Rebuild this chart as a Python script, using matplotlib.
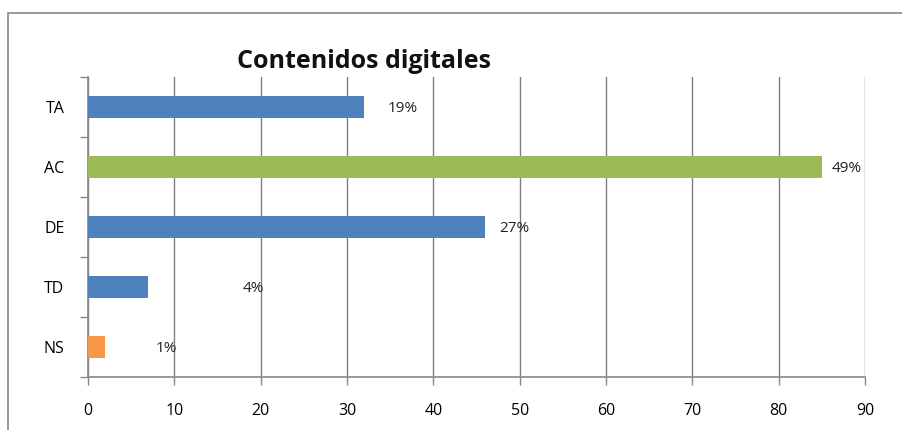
import matplotlib
matplotlib.use('Agg')
from matplotlib import pyplot as plt
from matplotlib.patches import Rectangle

# data
categories = ['TA', 'AC', 'DE', 'TD', 'NS']
values = [32, 85, 46, 7, 2]
pct_labels = ['19%', '49%', '27%', '4%', '1%']
bar_colors = ['#4F81BD', '#9BBB59', '#4F81BD', '#4F81BD', '#F79646']
label_offsets = [17, 7, 10, 68, 36]   # points right of bar end, as placed in the original

plt.rcParams['font.family'] = ['Open Sans', 'DejaVu Sans']

fig = plt.figure(figsize=(9.02, 4.30), dpi=100)
ax = fig.add_axes([0.0976, 0.1233, 0.8614, 0.6976])

# outer chart frame
fig.patches.append(Rectangle((8/902, -0.05), 1.0, 1 - 13/430 + 0.05, transform=fig.transFigure,
                             fill=False, ec='#888888', lw=1.2))

ypos = list(range(len(categories)))[::-1]
ax.barh(ypos, values, height=0.37, color=bar_colors, zorder=3)

for y, v, lab, off in zip(ypos, values, pct_labels, label_offsets):
    ax.annotate(lab, xy=(v, y), xytext=(off, -1), textcoords='offset points',
                va='center', ha='left', fontsize=11, color='#222222', zorder=4)

ax.set_xlim(0, 90)
ax.set_ylim(-0.5, len(categories) - 0.5)
ax.set_xticks(range(0, 91, 10))
ax.set_yticks(ypos)
ax.set_yticklabels(categories)
ax.set_yticks([i - 0.5 for i in range(len(categories) + 1)], minor=True)

ax.grid(axis='x', color='#808080', lw=1.0, zorder=0)
for s in ['top', 'right']:
    ax.spines[s].set_visible(False)
ax.spines['left'].set_color('#888888')
ax.spines['bottom'].set_color('#888888')
ax.spines['left'].set_linewidth(1.2)
ax.spines['bottom'].set_linewidth(1.2)

ax.tick_params(axis='x', length=6, width=1, color='#888888', labelsize=11.5, pad=13)
ax.tick_params(axis='y', which='major', length=0, labelsize=11.5, pad=17)
ax.tick_params(axis='y', which='minor', length=6, width=1, color='#888888')

fig.text(0.404, 0.856, 'Contenidos digitales', ha='center', va='center',
         fontsize=18, fontweight='bold', color='#111111')

fig.savefig('out.png', dpi=100)
